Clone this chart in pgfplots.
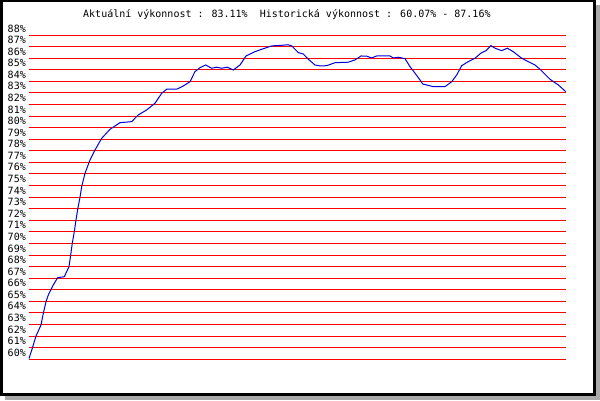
\documentclass[border=0pt]{standalone}
\usepackage{fontspec}
\setmainfont{DejaVu Sans Mono}
\usepackage{pgfplots}
\pgfplotsset{compat=1.18}
\definecolor{shadowgray}{RGB}{170,170,170}
\definecolor{lineblue}{RGB}{0,0,220}
\begin{document}
\begin{tikzpicture}[x=1pt,y=1pt]
\useasboundingbox (0,0) rectangle (600,400);
\fill[shadowgray] (5,0) rectangle (600,395);
\fill[black] (0,3.7) rectangle (596,400);
\fill[white] (3,6.7) rectangle (593.3,398);
\node[anchor=base west,inner sep=0pt] at (83,382.7)
  {Aktuální výkonnost : 83.11\%\ \ Historická výkonnost : 60.07\% - 87.16\%};
\begin{axis}[at={(29pt,40.7pt)},anchor=south west,scale only axis,
  width=537pt,height=324.3pt,
  xmin=0,xmax=537,ymin=60,ymax=88,
  axis line style={draw=none},
  major tick length=0pt,
  xtick=\empty,
  ytick={60,61,...,88},
  yticklabels={60\%,61\%,62\%,63\%,64\%,65\%,66\%,67\%,68\%,69\%,70\%,71\%,72\%,73\%,74\%,
    75\%,76\%,77\%,78\%,79\%,80\%,81\%,82\%,83\%,84\%,85\%,86\%,87\%,88\%},
  yticklabel style={anchor=base east,inner sep=0pt,xshift=-3pt,yshift=3pt},
  ymajorgrids,
  major grid style={red,line width=1pt},
  clip=false]
\addplot[lineblue,line width=1pt,sharp plot] coordinates {
(0,60.07) (3.3,60.95) (7,62.01) (12,62.96) (14.3,63.97) (17,64.97) (19.3,65.55)
(24.3,66.42) (28.7,67.05) (35.3,67.13) (40,68.0) (41.7,69.01) (43.3,70.02)
(45.3,71.02) (47,72.03) (48.7,72.95) (51,73.99) (52.7,74.91) (56,76.06)
(61,77.21) (66,78.07) (72.7,79.08) (81,79.86) (91,80.43) (102.7,80.52)
(109.3,81.10) (117.7,81.53) (126,82.11) (132.7,82.97) (137.7,83.32)
(147.7,83.32) (154.3,83.60) (161,83.97) (166,84.84) (171,85.18) (176.7,85.41)
(182.7,85.13) (187.7,85.22) (192.7,85.13) (198.3,85.22) (204.3,84.98)
(211,85.41) (217,86.19) (226,86.56) (232.7,86.77) (242.7,87.06) (254.3,87.12)
(259,87.16) (262.7,87.06) (269.3,86.48) (274.3,86.36) (279.3,85.91)
(286,85.41) (291,85.33) (297.7,85.35) (306,85.61) (319.3,85.65) (326,85.85)
(332,86.19) (337.7,86.17) (342.7,86.02) (347.7,86.19) (361,86.19)
(364.3,86.02) (369.3,86.08) (376,85.96) (381,85.27) (386,84.70) (391,84.12)
(393.7,83.77) (404.3,83.54) (416,83.54) (422.7,83.97) (427.7,84.55)
(432.7,85.35) (439.3,85.70) (446,85.99) (451.7,86.42) (457,86.65)
(462,87.08) (466,86.86) (472.7,86.65) (478.3,86.86) (484.3,86.56)
(492.7,85.99) (506,85.41) (511,85.04) (521,84.18) (529.3,83.69) (536.7,83.11)
};
\end{axis}
\end{tikzpicture}
\end{document}
